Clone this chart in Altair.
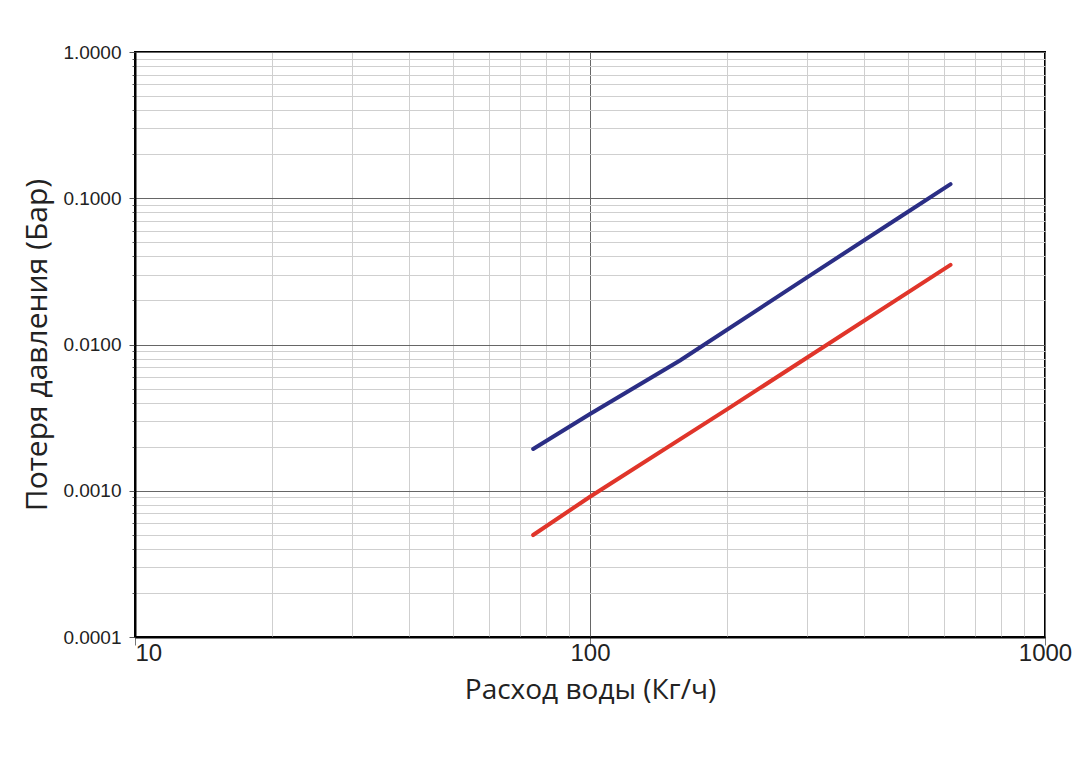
import altair as alt
import pandas as pd

# ---- data ----
blue_flow = [75, 100, 158, 300, 480, 620]
blue_dp = [0.00193, 0.00335, 0.0078, 0.0288, 0.0744, 0.125]
red_flow = [75, 100, 200, 620]
red_dp = [0.000498, 0.00091, 0.0036, 0.035]

x_ticks = [10, 20, 30, 40, 50, 60, 70, 80, 90,
           100, 200, 300, 400, 500, 600, 700, 800, 900, 1000]
y_ticks = [0.0001, 0.0002, 0.0003, 0.0004, 0.0005, 0.0006, 0.0007, 0.0008, 0.0009,
           0.001, 0.002, 0.003, 0.004, 0.005, 0.006, 0.007, 0.008, 0.009,
           0.01, 0.02, 0.03, 0.04, 0.05, 0.06, 0.07, 0.08, 0.09,
           0.1, 0.2, 0.3, 0.4, 0.5, 0.6, 0.7, 0.8, 0.9, 1.0]

x_title = "Расход воды (Кг/ч)"
y_title = "Потеря давления (Бар)"

df = pd.DataFrame(
    {"flow": blue_flow + red_flow,
     "dp": blue_dp + red_dp,
     "series": ["blue"] * len(blue_flow) + ["red"] * len(red_flow),
     "order": list(range(len(blue_flow))) + list(range(len(red_flow)))}
)

DEC = "abs(log(datum.value)/LN10 - round(log(datum.value)/LN10)) < 0.001"

x_axis = alt.Axis(
    values=x_ticks,
    title=x_title,
    titleFont="Open Sans", titleFontSize=28, titleFontWeight="normal", titleColor="#222",
    titlePadding=11,
    labelFont="Liberation Sans", labelFontSize=24, labelColor="#222",
    labelExpr=f"({DEC}) ? format(datum.value, 'd') : ''",
    labelOverlap=False, labelPadding=-4,
    labelAlign={"condition": {"test": "datum.value == 10", "value": "left"}, "value": "center"},
    tickSize=8,
    tickColor={"condition": {"test": DEC, "value": "#777"}, "value": "transparent"},
    domainColor="black", domainWidth=2,
    grid=True,
    gridColor={"condition": {"test": DEC, "value": "#666"}, "value": "#cfcfcf"},
    gridWidth=1,
)

y_axis = alt.Axis(
    values=y_ticks,
    title=y_title,
    titleFont="Open Sans", titleFontSize=30, titleFontWeight="normal", titleColor="#222",
    titlePadding=10,
    labelFont="Liberation Sans", labelFontSize=19, labelColor="#222",
    labelExpr=f"({DEC}) ? format(datum.value, '.4f') : ''",
    labelOverlap=False, labelPadding=8,
    tickSize={"condition": {"test": DEC, "value": 6}, "value": 3},
    tickColor="#555",
    domainColor="black", domainWidth=2,
    grid=True,
    gridColor={"condition": {"test": DEC, "value": "#666"}, "value": "#cfcfcf"},
    gridWidth=1,
)

chart = alt.Chart(df).mark_line(strokeWidth=4, strokeCap="round").encode(
    x=alt.X("flow:Q", scale=alt.Scale(type="log", domain=[10, 1000]), axis=x_axis),
    y=alt.Y("dp:Q", scale=alt.Scale(type="log", domain=[0.0001, 1]), axis=y_axis),
    color=alt.Color("series:N",
                    scale=alt.Scale(domain=["blue", "red"], range=["#2b2e85", "#e0352a"]),
                    legend=None),
    order="order:Q",
).properties(
    width=910, height=585,
    autosize=alt.AutoSizeParams(type="none"),
    padding={"left": 127, "top": 44, "right": 35, "bottom": 120},
    background="white",
).configure_view(
    stroke="black", strokeWidth=2
)

chart.save("out.html", embed_options={"renderer": "svg", "actions": False})
